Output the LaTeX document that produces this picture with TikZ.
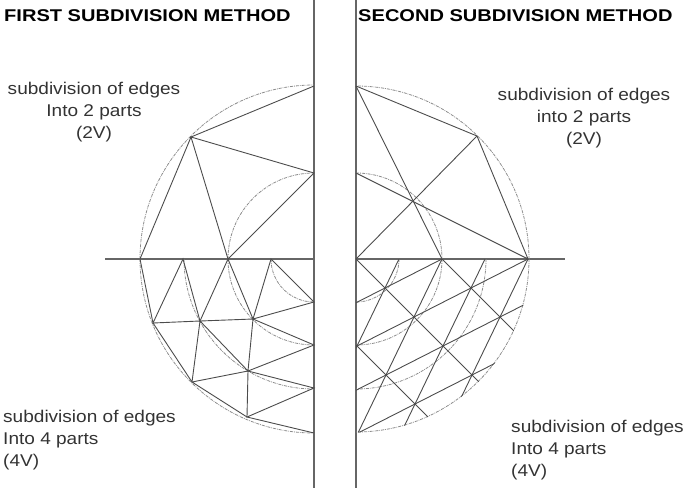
\documentclass[tikz,border=0pt]{standalone}
\usepackage{fontspec}
\setmainfont{Liberation Sans}
\begin{document}
\begin{tikzpicture}[x=1pt,y=-1pt,
  ln/.style={draw=black!70,line width=0.9pt},
  ax/.style={draw=black!60,line width=1.2pt},
  dd/.style={draw=black!45,line width=0.8pt,densely dashdotted},
  hd/.style={font=\bfseries\fontsize{17}{18}\selectfont,inner sep=0pt,xscale=1.18},
  lb/.style={font=\fontsize{17}{22}\selectfont,inner sep=0pt,text=black!80,xscale=1.12}]
\useasboundingbox (0,0) rectangle (685,488);
% headings and labels
\node[hd,anchor=west] (h1) at (4,16) {FIRST SUBDIVISION METHOD};
\node[hd,anchor=west] (h2) at (358,16) {SECOND SUBDIVISION METHOD};
\node[lb,align=center] (l1) at (94,112) {subdivision of edges\\Into 2 parts\\(2V)};
\node[lb,align=center] (l2) at (584,118) {subdivision of edges\\into 2 parts\\(2V)};
\node[lb,align=left,anchor=west] (l3) at (3,440) {subdivision of edges\\Into 4 parts\\(4V)};
\node[lb,align=left,anchor=west] (l4) at (511,450) {subdivision of edges\\Into 4 parts\\(4V)};
% axes
\coordinate (LA1) at (314,0); \coordinate (LA2) at (314,488);
\coordinate (LH) at (105,259); \coordinate (LO) at (314,259);
\coordinate (RA1) at (356,0); \coordinate (RA2) at (356,488);
\coordinate (RH) at (565,259); \coordinate (RO) at (356,259);
\draw[ax] (LA1) -- (LA2); \draw[ax] (LH) -- (LO);
\draw[ax] (RA1) -- (RA2); \draw[ax] (RO) -- (RH);
% ---------- left top (2V)
\coordinate (A) at (314,86); \coordinate (B) at (191,137); \coordinate (C) at (314,173);
\coordinate (D) at (140,259); \coordinate (E) at (228,259);
\draw[dd] (LO) ++(180:174) arc[start angle=180,end angle=270,radius=174];
\draw[dd] (LO) ++(180:86) arc[start angle=180,end angle=270,radius=86];
\draw[ln] (A)--(B)--(C)--(E)--(B)--(D);
% ---------- left bottom (4V)
\coordinate (k1) at (183,259); \coordinate (k2) at (271,259);
\coordinate (v1) at (314,302); \coordinate (v2) at (314,345);
\coordinate (v3) at (314,388); \coordinate (v4) at (314,433);
\coordinate (P1) at (153,323); \coordinate (P2) at (200,321); \coordinate (P3) at (253,319);
\coordinate (P4) at (192,382); \coordinate (P5) at (248,371); \coordinate (P6) at (247,417);
\foreach \r in {43,86,130,174}
  \draw[dd] (LO) ++(180:\r) arc[start angle=180,end angle=90,radius=\r];
\draw[ln] (D)--(P1)--(k1)--(P2)--(E)--(P3)--(k2)--(v1)--(P3)--(v2)--(P5)--(v3)--(P6)--(v4);
\draw[ln] (P1)--(P2)--(P3)--(P5)--(P2)--(P4)--(P1);
\draw[ln] (P4)--(P5)--(P6)--(P4);
% ---------- right top (2V)
\coordinate (T) at (356,86); \coordinate (Q) at (477,136); \coordinate (R) at (528,259);
\coordinate (L) at (356,173); \coordinate (S) at (442,259);
\draw[dd] (RO) ++(0:173) arc[start angle=0,end angle=-90,radius=173];
\draw[dd] (RO) ++(-90:86) arc[start angle=-90,end angle=0,radius=86];
\draw[ln] (T)--(Q)--(R)--(L); \draw[ln] (T)--(S); \draw[ln] (RO)--(Q);
% ---------- right bottom (4V) lattice
\foreach \r in {43,86,130,173}
  \draw[dd] (RO) ++(0:\r) arc[start angle=0,end angle=90,radius=\r];
\begin{scope}
\clip (356,259) rectangle (540,440);
\clip (RO) circle (173.5);
\foreach \j in {2,4,6,8}
  \draw[ln] ({356+28.5*(-2)-14*\j},{259-14.5*(-2)+29*\j}) -- ({356+28.5*12-14*\j},{259-14.5*12+29*\j});
\foreach \i in {2,4,6,8}
  \draw[ln] ({356+28.5*\i-14*(-2)},{259-14.5*\i+29*(-2)}) -- ({356+28.5*\i-14*12},{259-14.5*\i+29*12});
\foreach \k in {-2,0,2}
  \draw[ln] ({356+28.5*(\k-2)-14*(-2)},{259-14.5*(\k-2)+29*(-2)}) -- ({356+28.5*(\k+12)-14*12},{259-14.5*(\k+12)+29*12});
\end{scope}
\end{tikzpicture}
\end{document}
